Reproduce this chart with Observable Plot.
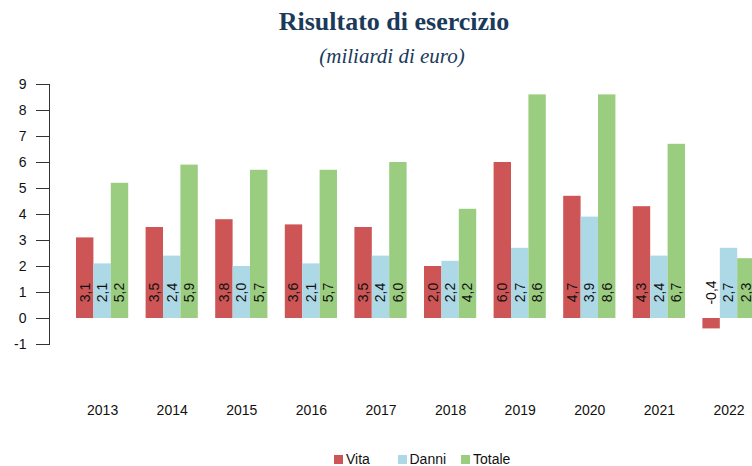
<!DOCTYPE html>
<html>
<head>
<meta charset="utf-8">
<script src="https://cdn.jsdelivr.net/npm/d3@7"></script>
<script src="https://cdn.jsdelivr.net/npm/@observablehq/plot@0.6"></script>
<style>
  html, body { margin: 0; padding: 0; background: #fff; }
  #wrap { position: relative; width: 752px; height: 466px; overflow: hidden; background: #fff; }
  .title { position: absolute; left: 0; width: 752px; text-align: center; color: #1b3a5a;
           font-family: "Liberation Serif", "DejaVu Serif", serif; white-space: nowrap; }
  #t1 { top: 9px; font-size: 26px; line-height: 26px; font-weight: bold; transform: translateX(18px); }
  #t2 { top: 46px; font-size: 21px; line-height: 21px; font-style: italic; transform: translateX(16px); }
  #chart { position: absolute; left: 0; top: 70px; }
  #chart svg { overflow: hidden; }
  #legend { position: absolute; left: 334px; top: 451px; }
  .lg-swatches { font: 14px "Liberation Sans", Arial, sans-serif !important; color: #111 !important;
                 min-height: 0 !important; margin: 0 !important; line-height: 16px; }
  .lg-swatch { width: 63.5px; margin-right: 0 !important; }
  .lg-swatch > svg { margin-right: 3px !important; }
</style>
</head>
<body>
<div id="wrap">
  <div class="title" id="t1">Risultato di esercizio</div>
  <div class="title" id="t2">(miliardi di euro)</div>
  <div id="chart"></div>
  <div id="legend"></div>
</div>
<script>
const years = ["2013","2014","2015","2016","2017","2018","2019","2020","2021","2022"];
const series = ["Vita","Danni","Totale"];
const vita   = [3.1, 3.5, 3.8, 3.6, 3.5, 2.0, 6.0, 4.7, 4.3, -0.4];
const danni  = [2.1, 2.4, 2.0, 2.1, 2.4, 2.2, 2.7, 3.9, 2.4, 2.7];
const totale = [5.2, 5.9, 5.7, 5.7, 6.0, 4.2, 8.6, 8.6, 6.7, 2.3];
const yTicks = [-1, 0, 1, 2, 3, 4, 5, 6, 7, 8, 9];
const colors = ["#CD5555", "#ADD8E6", "#9ACD80"];
const labelAt = 1;

const valuesBySeries = {Vita: vita, Danni: danni, Totale: totale};
const data = years.flatMap((year, i) => series.map(s => ({year, serie: s, value: valuesBySeries[s][i]})));
const fmt = v => v.toFixed(1).replace(".", ",");

const chart = Plot.plot({
  width: 752,
  height: 370,
  marginTop: 14,
  marginBottom: 96,
  marginLeft: 58.6,
  marginRight: 0,
  style: {fontFamily: "'Liberation Sans', Arial, sans-serif", fontSize: "14px", color: "#111", background: "#fff", overflow: "hidden"},
  fx: {domain: years, range: [58.6, 772], paddingInner: 0.25, paddingOuter: 0.25, round: false, label: null, axis: null},
  x: {domain: series, padding: 0, round: false, axis: null},
  y: {domain: [-1, 9], range: [274, 14], axis: null},
  color: {domain: series, range: colors},
  marks: [
    Plot.barY(data, {fx: "year", x: "serie", y: "value", fill: "serie"}),
    Plot.text(data, {fx: "year", x: "serie", y: () => labelAt, text: d => fmt(d.value), rotate: -90, fontSize: 14, fill: "#111"}),
    Plot.axisY({ticks: yTicks, tickSize: 13, tickPadding: 10, dx: -27, tickFormat: d => String(d), label: null, fontSize: 14, stroke: "#333", color: "#111"}),
    Plot.frame({anchor: "left", facetAnchor: "left", dx: -27, stroke: "#333"}),
    Plot.axisFx({anchor: "bottom", tickSize: 0, tickPadding: 61, label: null, fontSize: 14, color: "#111"})
  ]
});
document.getElementById("chart").appendChild(chart);
document.getElementById("legend").appendChild(chart.legend("color", {swatchSize: 9, className: "lg"}));
</script>
</body>
</html>
